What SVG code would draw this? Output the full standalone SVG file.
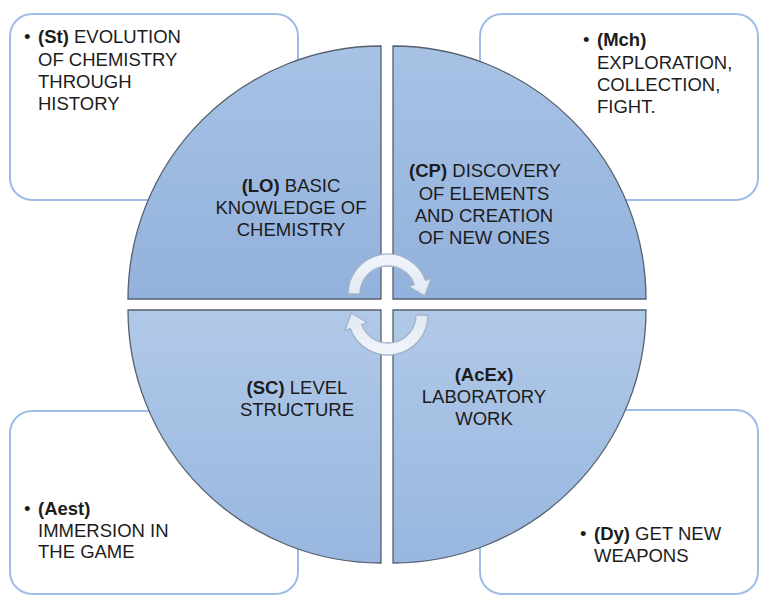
<svg xmlns="http://www.w3.org/2000/svg" width="761" height="596" viewBox="0 0 761 596">
<defs>
<linearGradient id="gTop" x1="0" y1="0" x2="0" y2="1">
<stop offset="0" stop-color="#a8c2e5"/>
<stop offset="1" stop-color="#92b1dc"/>
</linearGradient>
<linearGradient id="gBot" x1="0" y1="0" x2="0" y2="1">
<stop offset="0" stop-color="#b1c9e8"/>
<stop offset="1" stop-color="#98b6df"/>
</linearGradient>
<linearGradient id="gArr" x1="0" y1="0" x2="0" y2="1">
<stop offset="0" stop-color="#f2f6fb"/>
<stop offset="1" stop-color="#dfe8f3"/>
</linearGradient>
<style>
.box{fill:#ffffff;stroke:#9dbde6;stroke-width:2}
.q{stroke:#55606e;stroke-width:1.3}
.t{font-family:"Liberation Sans",Arial,sans-serif;font-size:18.5px;fill:#1c1c1c}
.c{text-anchor:middle}
.b{font-weight:bold}
.arr{fill:url(#gArr);stroke:#a3b2c6;stroke-width:1.3;stroke-linejoin:round}
</style>
</defs>
<rect width="761" height="596" fill="#ffffff"/>

<g id="box-st">
<rect class="box" x="10" y="14" width="288" height="186" rx="22"/>
<text class="t" x="24" y="43">•</text>
<text class="t" x="38" y="43"><tspan class="b">(St)</tspan> EVOLUTION</text>
<text class="t" x="38" y="65.5">OF CHEMISTRY</text>
<text class="t" x="38" y="88">THROUGH</text>
<text class="t" x="38" y="110">HISTORY</text>
</g>

<g id="box-mch">
<rect class="box" x="480" y="14" width="278" height="186" rx="22"/>
<text class="t" x="583" y="46">•</text>
<text class="t" x="597" y="46"><tspan class="b">(Mch)</tspan></text>
<text class="t" x="597" y="69">EXPLORATION,</text>
<text class="t" x="597" y="91">COLLECTION,</text>
<text class="t" x="597" y="113">FIGHT.</text>
</g>

<g id="box-aest">
<rect class="box" x="10" y="411" width="288" height="183" rx="22"/>
<text class="t" x="24" y="515">•</text>
<text class="t" x="38" y="515"><tspan class="b">(Aest)</tspan></text>
<text class="t" x="38" y="536.5">IMMERSION IN</text>
<text class="t" x="38" y="558">THE GAME</text>
</g>

<g id="box-dy">
<rect class="box" x="480" y="410" width="278" height="184" rx="22"/>
<text class="t" x="580" y="539.5">•</text>
<text class="t" x="594" y="539.5"><tspan class="b">(Dy)</tspan> GET NEW</text>
<text class="t" x="594" y="562">WEAPONS</text>
</g>

<g id="q-lo">
<path class="q" fill="url(#gTop)" d="M381,299 L128,299 A253,253 0 0 1 381,46 Z"/>
<text class="t c" x="291" y="192"><tspan class="b">(LO)</tspan> BASIC</text>
<text class="t c" x="291" y="214">KNOWLEDGE OF</text>
<text class="t c" x="291" y="236">CHEMISTRY</text>
</g>

<g id="q-cp">
<path class="q" fill="url(#gTop)" d="M393,299 L393,46 A253,253 0 0 1 646,299 Z"/>
<text class="t c" x="485" y="177"><tspan class="b">(CP)</tspan> DISCOVERY</text>
<text class="t c" x="484" y="199.5">OF ELEMENTS</text>
<text class="t c" x="484" y="222">AND CREATION</text>
<text class="t c" x="484" y="244">OF NEW ONES</text>
</g>

<g id="q-sc">
<path class="q" fill="url(#gBot)" d="M381,310 L381,563 A253,253 0 0 1 128,310 Z"/>
<text class="t c" x="297" y="394"><tspan class="b">(SC)</tspan> LEVEL</text>
<text class="t c" x="297" y="416">STRUCTURE</text>
</g>

<g id="q-acex">
<path class="q" fill="url(#gBot)" d="M393,310 L646,310 A253,253 0 0 1 393,563 Z"/>
<text class="t c" x="484" y="381"><tspan class="b">(AcEx)</tspan></text>
<text class="t c" x="484" y="403">LABORATORY</text>
<text class="t c" x="484" y="425">WORK</text>
</g>

<g id="connectors">
<path id="arrow-top" class="arr" d="M348,294 A40,40 0 0 1 425.6,280.3 L431.2,278.3 L424.8,296 L408.7,286.5 L414.3,284.4 A28,28 0 0 0 360,294 Z"/>
<path id="arrow-bottom" class="arr" transform="rotate(180 388 304.5)" d="M348,294 A40,40 0 0 1 425.6,280.3 L431.2,278.3 L424.8,296 L408.7,286.5 L414.3,284.4 A28,28 0 0 0 360,294 Z"/>
</g>
</svg>
